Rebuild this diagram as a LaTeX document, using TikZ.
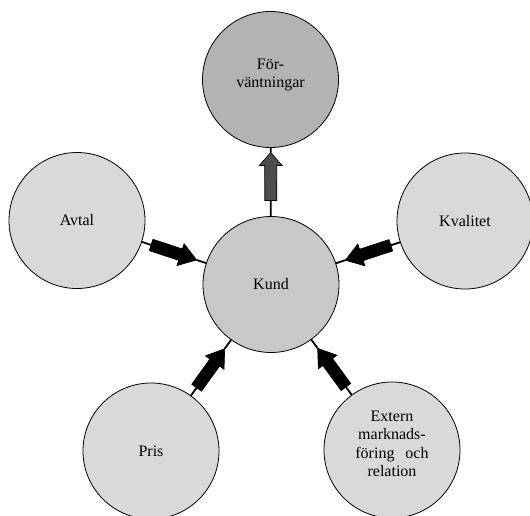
\documentclass[tikz,border=0pt]{standalone}
\usepackage{fontspec}
\setmainfont{Liberation Serif}
\usetikzlibrary{calc}
\definecolor{circlight}{HTML}{D9D9D9}
\definecolor{circmid}{HTML}{C8C8C8}
\definecolor{circdark}{HTML}{B3B3B3}
\definecolor{arrdark}{HTML}{4D4D4D}
\tikzset{
  bubble/.style={circle, draw=black, line width=0.8pt, minimum size=136pt, inner sep=0pt,
    align=center, font=\fontsize{16}{18.6}\selectfont, fill=circlight},
  linkline/.style={line width=1.8pt, draw=black},
  blockblack/.style={fill=black, draw=black, line width=0.6pt},
  blockgray/.style={fill=arrdark, draw=black, line width=0.6pt},
}
% #1 src node, #2 dst node, #3 tail, #4 shaft, #5 head, #6 style
\newcommand{\blockconn}[6]{%
  \coordinate (e1) at ($(#1.center)!68pt!(#2.center)$);
  \coordinate (e2) at ($(#2.center)!68pt!(#1.center)$);
  \coordinate (s0) at ($(e1)!#3!(e2)$);
  \coordinate (s1) at ($(s0)!#4!(e2)$);
  \coordinate (tp) at ($(s1)!#5!(e2)$);
  \draw[linkline] (e1) -- (s0);
  \draw[linkline] (tp) -- (e2);
  \draw[#6] ($(s0)!6pt!90:(e2)$) -- ($(s1)!6pt!90:(e2)$) -- ($(s1)!11.5pt!90:(e2)$)
     -- (tp) -- ($(s1)!11.5pt!-90:(e2)$) -- ($(s1)!6pt!-90:(e2)$) -- ($(s0)!6pt!-90:(e2)$) -- cycle;
}
\begin{document}
\begin{tikzpicture}[x=1pt,y=-1pt]
\useasboundingbox (0,0) rectangle (530,515);
\clip (0,0) rectangle (530,515);
\node[bubble, fill=circdark] (F) at (270.5,79.5) {För-\\väntningar\\[-6pt]};
\node[bubble, fill=circmid] (K) at (271,284.5) {Kund};
\node[bubble] (A) at (77,220.5) {Avtal};
\node[bubble] (Q) at (465,221) {Kvalitet};
\node[bubble] (P) at (151,451) {Pris};
\node[bubble] (E) at (392,450) {Extern\\marknads-\\föring\hspace{7pt} och\\relation\\[-6pt]};
\blockconn{K}{F}{16pt}{35pt}{13pt}{blockgray}
\blockconn{A}{K}{10pt}{31pt}{17pt}{blockblack}
\blockconn{Q}{K}{10pt}{31pt}{17pt}{blockblack}
\blockconn{P}{K}{10pt}{31pt}{17pt}{blockblack}
\blockconn{E}{K}{10pt}{31pt}{17pt}{blockblack}
\end{tikzpicture}
\end{document}
